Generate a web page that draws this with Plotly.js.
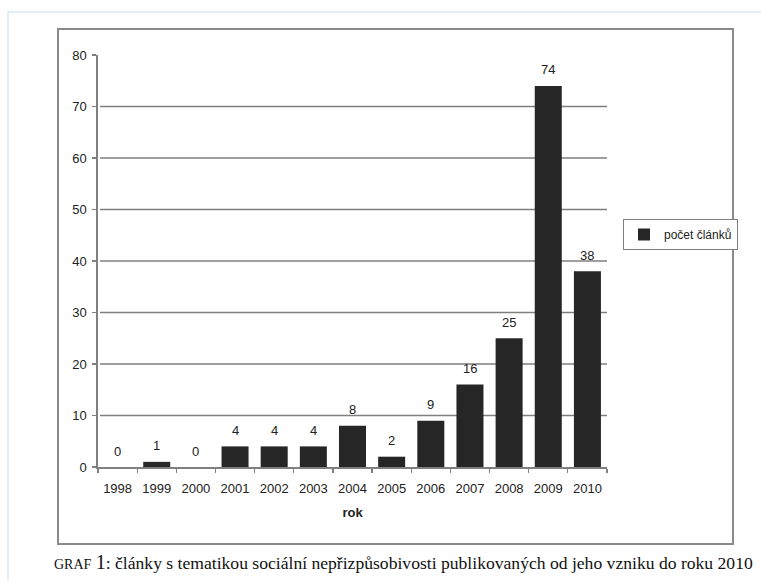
<!DOCTYPE html>
<html>
<head>
<meta charset="utf-8">
<script src="https://cdn.plot.ly/plotly-3.0.1.min.js"></script>
<style>html,body{margin:0;padding:0;background:#fff;}</style>
</head>
<body>
<div id="chart" style="width:761px;height:581px;"></div>
<script>
// ---- data ----
const years = ["1998","1999","2000","2001","2002","2003","2004","2005","2006","2007","2008","2009","2010"];
const counts = [0, 1, 0, 4, 4, 4, 8, 2, 9, 16, 25, 74, 38];
const yTicks = [0, 10, 20, 30, 40, 50, 60, 70, 80];
const gridValues = [10, 20, 30, 40, 50, 60, 70];
const seriesName = "počet článků";
const xTitle = "rok";
const captionLead = "GRAF";
const captionNum = "1";
const captionText = ": články s tematikou sociální nepřizpůsobivosti publikovaných od jeho vzniku do roku 2010";

// ---- layout helpers (pixel -> paper) ----
const W = 761, H = 581;
const M = {l: 98, r: 154, t: 55, b: 114};
const PW = W - M.l - M.r, PH = H - M.t - M.b;
const px2x = p => (p - M.l) / PW;
const px2y = p => (H - M.b - p) / PH;

const sans = "Liberation Sans, Arial, sans-serif";
const serif = "Liberation Serif, Times New Roman, serif";
const textCol = "#222222";
const gridCol = "#7f7f7f";

const trace = {
  type: "bar",
  x: years,
  y: counts,
  name: seriesName,
  marker: {color: "#262626", line: {width: 0}},
  showlegend: true,
  hoverinfo: "x+y"
};

const shapes = [];
// outer light page border
shapes.push({type: "rect", xref: "paper", yref: "paper",
  x0: px2x(8), x1: px2x(820), y0: px2y(12), y1: px2y(700),
  line: {color: "#d8e9ef", width: 1.5}, fillcolor: "rgba(0,0,0,0)", layer: "below"});
// chart frame
shapes.push({type: "rect", xref: "paper", yref: "paper",
  x0: px2x(58), x1: px2x(733), y0: px2y(29), y1: px2y(544),
  line: {color: "#8a8a8a", width: 2}, fillcolor: "rgba(0,0,0,0)", layer: "below"});
// horizontal gridlines
gridValues.forEach(v => shapes.push({type: "line", xref: "paper", yref: "y",
  x0: 0.004, x1: 1, y0: v, y1: v, line: {color: gridCol, width: 1.6}, layer: "below"}));

// value labels (x given as category index so the category axis places them)
const annotations = counts.map((v, i) => ({
  x: i, y: v, xref: "x", yref: "y",
  text: String(v), showarrow: false, yanchor: "middle", yshift: 16,
  font: {family: sans, size: 13, color: textCol}
}));
annotations.push({
  xref: "paper", yref: "paper", x: px2x(52), y: px2y(562),
  xanchor: "left", yanchor: "middle", showarrow: false,
  text: "<span style='font-size:14px'>" + captionLead + "</span> <span style='font-size:20px'>" + captionNum + "</span>" + captionText,
  font: {family: serif, size: 17.6, color: "#111111"}
});

const layout = {
  width: W, height: H,
  margin: M,
  paper_bgcolor: "#ffffff",
  plot_bgcolor: "rgba(0,0,0,0)",
  bargap: 0.31,
  showlegend: true,
  font: {family: sans, size: 13, color: textCol},
  xaxis: {
    type: "category",
    range: [-0.5, years.length - 0.5],
    autorange: false,
    showline: true, linecolor: "#7f7f7f", linewidth: 1.6,
    ticks: "outside", tickson: "boundaries", ticklen: 4, tickcolor: "#7f7f7f", tickwidth: 1.3,
    showgrid: false, zeroline: false,
    tickangle: 0,
    tickfont: {family: sans, size: 13, color: textCol},
    ticklabelstandoff: 9,
    title: {text: xTitle, font: {family: sans, size: 13, color: textCol, weight: "bold"}, standoff: 12},
    automargin: false
  },
  yaxis: {
    range: [0, 80],
    autorange: false,
    tickvals: yTicks,
    showline: true, linecolor: "#7f7f7f", linewidth: 1.6,
    ticks: "outside", ticklen: 4, tickcolor: "#7f7f7f", tickwidth: 1.3,
    showgrid: false, zeroline: false,
    tickfont: {family: sans, size: 13, color: textCol},
    ticklabelstandoff: 3,
    automargin: false
  },
  legend: {
    x: px2x(623), y: px2y(219), xanchor: "left", yanchor: "top",
    bordercolor: "#7f7f7f", borderwidth: 1, bgcolor: "#ffffff",
    font: {family: sans, size: 12, color: textCol},
    itemwidth: 30
  },
  shapes: shapes,
  annotations: annotations
};

Plotly.newPlot("chart", [trace], layout, {displayModeBar: false, staticPlot: true});
</script>
</body>
</html>
